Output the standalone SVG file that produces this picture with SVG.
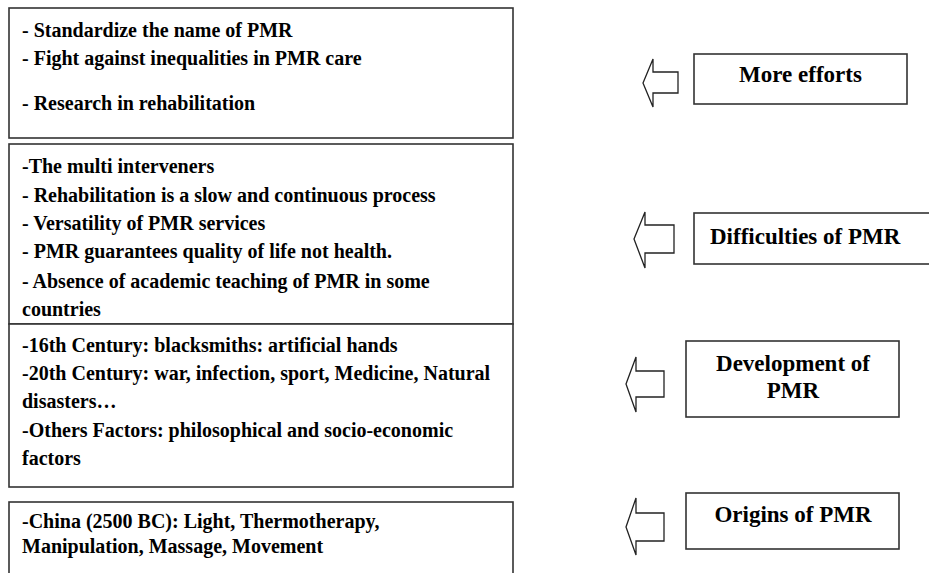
<svg xmlns="http://www.w3.org/2000/svg" width="929" height="573" viewBox="0 0 929 573">
<style>
.box{fill:#fff;stroke:#333;stroke-width:1.6}
.arr{fill:#fff;stroke:#222;stroke-width:1.3;stroke-linejoin:miter}
.t{font-family:"Liberation Serif","Times New Roman",serif;font-weight:bold;font-size:20px;fill:#000}
.lab{font-family:"Liberation Serif","Times New Roman",serif;font-weight:bold;font-size:23px;fill:#000;text-anchor:middle}
.labl{font-family:"Liberation Serif","Times New Roman",serif;font-weight:bold;font-size:23px;fill:#000}
</style>
<rect width="929" height="573" fill="#fff"/>
<g id="box-efforts">
<rect class="box" x="9" y="8" width="504" height="130"/>
<text class="t" x="22" y="37">- Standardize the name of PMR</text>
<text class="t" x="22" y="65">- Fight against inequalities in PMR care</text>
<text class="t" x="22" y="110">- Research in rehabilitation</text>
</g>
<g id="box-difficulties">
<rect class="box" x="9" y="144" width="504" height="180"/>
<text class="t" x="22" y="173">-The multi interveners</text>
<text class="t" x="22" y="202">- Rehabilitation is a slow and continuous process</text>
<text class="t" x="22" y="230">- Versatility of PMR services</text>
<text class="t" x="22" y="258">- PMR guarantees quality of life not health.</text>
<text class="t" x="22" y="288">- Absence of academic teaching of PMR in some</text>
<text class="t" x="22" y="316">countries</text>
</g>
<g id="box-development">
<rect class="box" x="9" y="324" width="504" height="163"/>
<text class="t" x="22" y="352">-16th Century: blacksmiths: artificial hands</text>
<text class="t" x="22" y="380">-20th Century: war, infection, sport, Medicine, Natural</text>
<text class="t" x="22" y="408">disasters…</text>
<text class="t" x="22" y="437">-Others Factors: philosophical and socio-economic</text>
<text class="t" x="22" y="465">factors</text>
</g>
<g id="box-origins">
<rect class="box" x="9" y="502" width="504" height="80"/>
<text class="t" x="22" y="528">-China (2500 BC): Light, Thermotherapy,</text>
<text class="t" x="22" y="553">Manipulation, Massage, Movement</text>
</g>
<g id="label-efforts">
<rect class="box" x="694" y="54" width="213" height="50"/>
<text class="lab" x="800.5" y="82">More efforts</text>
</g>
<g id="label-difficulties">
<rect class="box" x="694" y="213" width="250" height="51"/>
<text class="labl" x="710" y="244">Difficulties of PMR</text>
</g>
<g id="label-development">
<rect class="box" x="686" y="341" width="213" height="76"/>
<text class="lab" x="793" y="371">Development of</text>
<text class="lab" x="793" y="398">PMR</text>
</g>
<g id="label-origins">
<rect class="box" x="686" y="493" width="213" height="56"/>
<text class="lab" x="793" y="522">Origins of PMR</text>
</g>
<g id="connectors">
<path class="arr" d="M643,83 L653,59 L653,72 L678,72 L678,93 L653,93 L653,107 Z"/>
<path class="arr" d="M634,239 L645,212 L645,225 L674,225 L674,253 L645,253 L645,268 Z"/>
<path class="arr" d="M626,384 L636,357 L636,371 L664,371 L664,397 L636,397 L636,412 Z"/>
<path class="arr" d="M626,527 L636,498 L636,513 L664,513 L664,541 L636,541 L636,555 Z"/>
</g>
</svg>
